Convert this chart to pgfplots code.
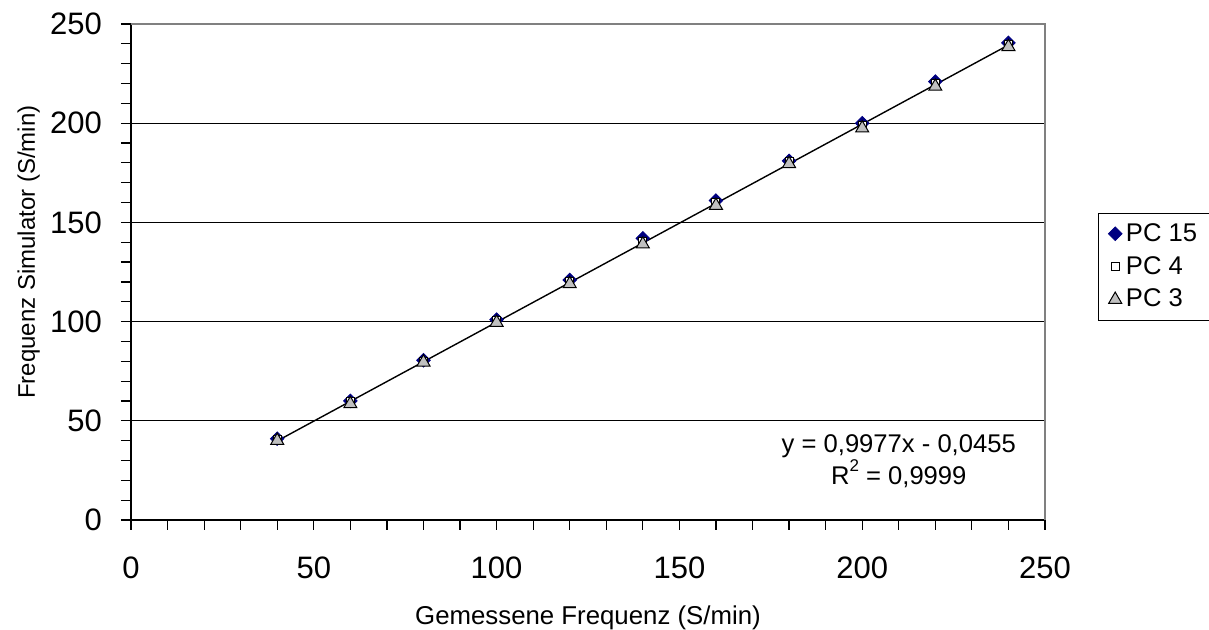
\documentclass[border=0pt]{standalone}
\usepackage{fontspec}
\setmainfont{Liberation Sans}
\usepackage{pgfplots}
\pgfplotsset{compat=1.18}
\definecolor{pcnavy}{RGB}{0,0,128}
\definecolor{pcgray}{RGB}{192,192,192}
\definecolor{frame}{RGB}{128,128,128}

\begin{document}
\begin{tikzpicture}
\begin{axis}[
  at={(0,0)}, anchor=south west,
  scale only axis, width=457pt, height=248pt,
  xmin=0, xmax=250, ymin=0, ymax=250,
  xtick={0,50,...,250}, ytick={0,50,...,250},
  minor tick num=4,
  axis x line*=bottom, axis y line*=left,
  axis line style={black, line width=0.6pt, -},
  tick align=outside, major tick length=5pt, minor tick length=5pt,
  every tick/.style={black, line width=0.6pt},
  ymajorgrids, major grid style={black, line width=0.5pt},
  tick label style={font=\fontsize{15.5}{18}\selectfont},
  xticklabel style={yshift=-10pt},
  yticklabel style={xshift=-6pt},
  /pgf/number format/assume math mode=true,
  xlabel={Gemessene Frequenz (S/min)},
  ylabel={Frequenz Simulator (S/min)},
  xlabel style={font=\fontsize{12.9}{15}\selectfont, at={(axis description cs:0.5,-0.198)}, anchor=center},
  ylabel style={font=\fontsize{12}{14}\selectfont, at={(axis description cs:-0.112,0.54)}, anchor=center},
  legend style={at={(1.058,0.619)}, anchor=north west, draw=black,
    font=\fontsize{12.8}{15}\selectfont, row sep=2pt, inner xsep=5pt, inner ysep=3pt,
    /tikz/every even column/.append style={column sep=3pt}},
  legend cell align=left,
  clip=false,
]
\draw[frame, line width=0.8pt] (rel axis cs:0,1) -- (rel axis cs:1,1) -- (rel axis cs:1,0);
\addplot[only marks, mark=square*, mark size=2.4pt, mark options={rotate=45, fill=pcnavy, draw=pcnavy}]
  coordinates {(40,41)(60,60)(80,80.5)(100,101)(120,121)(140,142)(160,161)(180,181)(200,200)(220,221)(240,240.5)};
\addlegendentry{PC 15}
\addplot[only marks, mark=square*, mark size=2pt, mark options={fill=white, draw=black, line width=0.5pt}]
  coordinates {(40,40.5)(60,59.5)(80,80)(100,100.5)(120,120)(140,140.5)(160,160)(180,180.5)(200,199)(220,220)(240,239.5)};
\addlegendentry{PC 4}
\addplot[only marks, mark=triangle*, mark size=3.75pt, mark options={fill=pcgray, draw=black, line width=0.5pt}]
  coordinates {(40,40)(60,58.5)(80,79.5)(100,99.5)(120,119)(140,139)(160,158.5)(180,179.5)(200,197.5)(220,218.5)(240,238.5)};
\addlegendentry{PC 3}
\addplot[black, line width=0.7pt, forget plot] coordinates {(40,39.86)(240,239.40)};
\node[align=center, font=\fontsize{12.8}{14}\selectfont] at (axis cs:210,29.7)
  {y = 0,9977x - 0,0455\\R\raisebox{0.5em}{\fontsize{8.5}{10}\selectfont 2} = 0,9999};
\end{axis}
\pgfresetboundingbox
\useasboundingbox (-65.5pt,-55pt) rectangle (539pt,260pt);
\end{tikzpicture}
\end{document}
